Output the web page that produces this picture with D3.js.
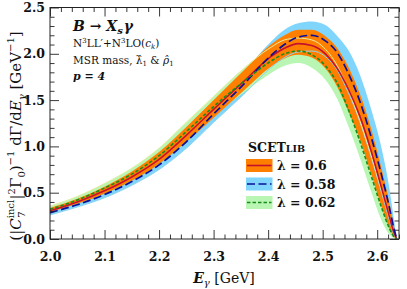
<!DOCTYPE html>
<html><head><meta charset="utf-8">
<script src="https://cdn.jsdelivr.net/npm/d3@7"></script>
<style>
html,body{margin:0;padding:0;background:#fff;}
svg{display:block;}
text{font-family:"DejaVu Serif","Liberation Serif",serif;}
</style></head>
<body>
<svg id="c" width="407" height="289"></svg>
<script>
// ---- data ----
const energy = [2.00, 2.05, 2.10, 2.15, 2.20, 2.25, 2.30, 2.355, 2.405, 2.43, 2.455, 2.48, 2.505, 2.527, 2.547, 2.568, 2.588, 2.608, 2.622, 2.63, 2.636];
// lambda = 0.6 (central, orange band)
const redMid = [0.305, 0.40, 0.52, 0.67, 0.86, 1.12, 1.40, 1.70, 1.97, 2.06, 2.11, 2.09, 2.00, 1.84, 1.62, 1.33, 0.97, 0.55, 0.25, 0.08, 0.0];
const redLo  = [0.29, 0.38, 0.49, 0.63, 0.81, 1.05, 1.31, 1.60, 1.86, 1.95, 1.99, 1.96, 1.84, 1.64, 1.38, 1.08, 0.72, 0.35, 0.12, 0.03, 0.0];
const redHi  = [0.335, 0.435, 0.565, 0.73, 0.94, 1.21, 1.50, 1.82, 2.10, 2.20, 2.26, 2.26, 2.19, 2.06, 1.86, 1.57, 1.21, 0.76, 0.40, 0.16, 0.0];
// lambda = 0.58 (blue band)
const blueMid = [0.285, 0.37, 0.48, 0.62, 0.80, 1.05, 1.35, 1.67, 1.98, 2.10, 2.18, 2.20, 2.14, 2.01, 1.79, 1.49, 1.12, 0.69, 0.35, 0.13, 0.0];
const blueLo  = [0.26, 0.345, 0.445, 0.58, 0.75, 0.98, 1.26, 1.56, 1.85, 1.96, 2.02, 2.03, 1.97, 1.82, 1.58, 1.27, 0.90, 0.50, 0.21, 0.06, 0.0];
const blueHi  = [0.305, 0.40, 0.515, 0.67, 0.87, 1.14, 1.46, 1.80, 2.13, 2.26, 2.33, 2.35, 2.31, 2.19, 2.04, 1.78, 1.42, 0.98, 0.56, 0.24, 0.0];
// lambda = 0.62 (green band)
const greenMid = [0.32, 0.42, 0.55, 0.70, 0.90, 1.16, 1.43, 1.70, 1.92, 2.00, 2.03, 1.99, 1.87, 1.68, 1.40, 1.06, 0.70, 0.34, 0.12, 0.03, 0.0];
const greenLo  = [0.30, 0.39, 0.51, 0.65, 0.83, 1.07, 1.33, 1.58, 1.79, 1.87, 1.90, 1.85, 1.72, 1.51, 1.22, 0.88, 0.53, 0.20, 0.05, 0.01, 0.0];
const greenHi  = [0.355, 0.46, 0.60, 0.765, 0.98, 1.26, 1.54, 1.84, 2.07, 2.15, 2.17, 2.15, 2.05, 1.87, 1.61, 1.28, 0.92, 0.52, 0.25, 0.09, 0.0];

const xMajor = [2.0, 2.1, 2.2, 2.3, 2.4, 2.5, 2.6];
const yMajor = [0.0, 0.5, 1.0, 1.5, 2.0, 2.5];
const legendLabels = ["λ = 0.6", "λ = 0.58", "λ = 0.62"];

// ---- layout ----
const L = 50, R = 399, T = 7.5, B = 239;
const svg = d3.select("#c");
const x = d3.scaleLinear().domain([2.0, 2.64]).range([L, R]);
const y = d3.scaleLinear().domain([0, 2.5]).range([B, T]);

const xMinor = d3.range(2.0, 2.6401, 0.02).filter(v => Math.abs(v*10 - Math.round(v*10)) > 1e-6);
const yMinor = d3.range(0, 2.5001, 0.1).filter(v => Math.abs(v*2 - Math.round(v*2)) > 1e-6);

const mk = (lo, hi) => energy.map((e, i) => ({e, lo: lo[i], hi: hi[i]}));
const area = d3.area().x(d => x(d.e)).y0(d => y(d.lo)).y1(d => y(d.hi)).curve(d3.curveMonotoneX);
const line = d3.line().x(d => x(d.e)).y(d => y(d.v)).curve(d3.curveMonotoneX);
const pts = arr => energy.map((e, i) => ({e, v: arr[i]}));

const plot = svg.append("g");
plot.append("defs").append("clipPath").attr("id", "clip").append("rect")
  .attr("x", L).attr("y", T).attr("width", R - L).attr("height", B - T);
const g = plot.append("g").attr("clip-path", "url(#clip)");

const cBlue = "#7fd5fb", cGreen = "#b9f6b4", cOrange = "#ff8000";
g.append("path").attr("d", area(mk(blueLo, blueHi))).attr("fill", cBlue);
g.append("path").attr("d", area(mk(greenLo, greenHi))).attr("fill", cGreen);
g.append("path").attr("d", area(mk(redLo, redHi))).attr("fill", cOrange);
// faint edges of the other bands seen through the orange band
g.append("path").attr("d", line(pts(blueLo))).attr("fill", "none").attr("stroke", "#8fd3ef").attr("stroke-width", 1);
g.append("path").attr("d", line(pts(greenHi))).attr("fill", "none").attr("stroke", "#e4eca0").attr("stroke-width", 1);
// central lines
g.append("path").attr("d", line(pts(redMid))).attr("fill", "none").attr("stroke", "#c4122e").attr("stroke-width", 1.6);
g.append("path").attr("d", line(pts(blueMid))).attr("fill", "none").attr("stroke", "#0c0f9a").attr("stroke-width", 1.7).attr("stroke-dasharray", "8,3.5");
g.append("path").attr("d", line(pts(greenMid))).attr("fill", "none").attr("stroke", "#1a8c1a").attr("stroke-width", 1.6).attr("stroke-dasharray", "3.5,2");

// ---- axes ----
function styleAxis(sel) {
  sel.select(".domain").remove();
  sel.selectAll("line").attr("stroke", "#222").attr("stroke-width", 0.9);
  sel.selectAll("text").attr("font-family", "DejaVu Serif").attr("font-weight", "bold").attr("font-size", 12.5).attr("fill", "#111");
}
const ax = svg.append("g");
ax.append("g").attr("transform", `translate(0,${B})`).call(d3.axisBottom(x).tickValues(xMajor).tickSize(-9).tickPadding(13).tickFormat(d3.format(".1f"))).call(styleAxis);
ax.append("g").attr("transform", `translate(0,${B})`).call(d3.axisBottom(x).tickValues(xMinor).tickSize(-4.5).tickFormat("")).call(styleAxis);
ax.append("g").attr("transform", `translate(0,${T})`).call(d3.axisTop(x).tickValues(xMajor).tickSize(-9).tickFormat("")).call(styleAxis);
ax.append("g").attr("transform", `translate(0,${T})`).call(d3.axisTop(x).tickValues(xMinor).tickSize(-4.5).tickFormat("")).call(styleAxis);
ax.append("g").attr("transform", `translate(${L},0)`).call(d3.axisLeft(y).tickValues(yMajor).tickSize(-9).tickPadding(5).tickFormat(d3.format(".1f"))).call(styleAxis);
ax.append("g").attr("transform", `translate(${L},0)`).call(d3.axisLeft(y).tickValues(yMinor).tickSize(-4.5).tickFormat("")).call(styleAxis);
ax.append("g").attr("transform", `translate(${R},0)`).call(d3.axisRight(y).tickValues(yMajor).tickSize(-9).tickFormat("")).call(styleAxis);
ax.append("g").attr("transform", `translate(${R},0)`).call(d3.axisRight(y).tickValues(yMinor).tickSize(-4.5).tickFormat("")).call(styleAxis);
svg.append("rect").attr("x", L).attr("y", T).attr("width", R - L).attr("height", B - T)
  .attr("fill", "none").attr("stroke", "#222").attr("stroke-width", 1);

// ---- x label ----
const xl = svg.append("text").attr("x", 224).attr("y", 283).attr("text-anchor", "middle")
  .attr("font-family", "DejaVu Serif").attr("font-size", 14).attr("fill", "#111");
xl.append("tspan").text("E").attr("font-style", "italic").attr("font-weight", "bold");
xl.append("tspan").text("γ").attr("font-size", 10).attr("dy", 3).attr("font-style", "italic");
xl.append("tspan").text(" [GeV]").attr("dy", -3);

// ---- y label ----
const yl = svg.append("text").attr("transform", "translate(21,136) rotate(-90)").attr("text-anchor", "middle")
  .attr("font-family", "DejaVu Serif").attr("font-size", 15).attr("fill", "#111");
yl.append("tspan").text("(|");
yl.append("tspan").text("C").attr("font-style", "italic");
yl.append("tspan").text("incl").attr("font-size", 10).attr("dy", -7);
yl.append("tspan").text("7").attr("font-size", 10).attr("dx", -18).attr("dy", 10.5);
yl.append("tspan").text("|").attr("dx", 12).attr("dy", -3.5);
yl.append("tspan").text("2").attr("font-size", 10).attr("dy", -6);
yl.append("tspan").text("Γ").attr("dy", 6);
yl.append("tspan").text("0").attr("font-size", 10).attr("dy", 3.5);
yl.append("tspan").text(")").attr("dy", -3.5);
yl.append("tspan").text("−1").attr("font-size", 10).attr("dy", -7);
yl.append("tspan").text(" dΓ/d").attr("dy", 7);
yl.append("tspan").text("E").attr("font-style", "italic");
yl.append("tspan").text("γ").attr("font-size", 10).attr("dy", 3.5).attr("font-style", "italic");
yl.append("tspan").text(" [GeV").attr("dy", -3.5);
yl.append("tspan").text("−1").attr("font-size", 10).attr("dy", -7);
yl.append("tspan").text("]").attr("dy", 7);

// ---- annotation ----
const ann = svg.append("g").attr("font-family", "DejaVu Serif").attr("fill", "#111");
const t1 = ann.append("text").attr("x", 73).attr("y", 31).attr("font-size", 14).attr("font-weight", "bold").attr("font-style", "italic");
t1.append("tspan").text("B → X");
t1.append("tspan").text("s").attr("font-size", 10).attr("dy", 3);
t1.append("tspan").text("γ").attr("dy", -3).attr("dx", 1);
const t2 = ann.append("text").attr("x", 73).attr("y", 47).attr("font-size", 10.5);
t2.append("tspan").text("N");
t2.append("tspan").text("3").attr("font-size", 7).attr("dy", -4);
t2.append("tspan").text("LL′+N").attr("dy", 4);
t2.append("tspan").text("3").attr("font-size", 7).attr("dy", -4);
t2.append("tspan").text("LO(").attr("dy", 4);
t2.append("tspan").text("c").attr("font-style", "italic");
t2.append("tspan").text("k").attr("font-size", 7).attr("dy", 2).attr("font-style", "italic");
t2.append("tspan").text(")").attr("dy", -2);
const t3 = ann.append("text").attr("x", 73).attr("y", 64).attr("font-size", 10.5);
t3.append("tspan").text("MSR mass, ");
t3.append("tspan").text("λ̂");
t3.append("tspan").text("1").attr("font-size", 7).attr("dy", 2);
t3.append("tspan").text(" & ").attr("dy", -2);
t3.append("tspan").text("ρ̂").attr("font-style", "italic");
t3.append("tspan").text("1").attr("font-size", 7).attr("dy", 2);
ann.append("text").attr("x", 73).attr("y", 80).attr("font-size", 11).attr("font-weight", "bold").attr("font-style", "italic").text("p = 4");

// ---- legend ----
const lg = svg.append("g").attr("font-family", "DejaVu Serif").attr("fill", "#111");
const lt = lg.append("text").attr("x", 248).attr("y", 152).attr("font-weight", "bold").attr("font-size", 12.5);
lt.append("tspan").text("SCET");
lt.append("tspan").text("LIB").attr("font-size", 9.5);
const rows = [
  {fill: cOrange, stroke: "#c4122e", dash: null, w: 1.6},
  {fill: cBlue, stroke: "#0c0f9a", dash: "8,3.5", w: 1.7},
  {fill: cGreen, stroke: "#1a8c1a", dash: "3.5,2", w: 1.6}
];
const rowY = [165.5, 184, 202.5];
rows.forEach((r, i) => {
  const cy = rowY[i];
  lg.append("rect").attr("x", 246).attr("y", cy - 6.5).attr("width", 26.5).attr("height", 13).attr("fill", r.fill);
  const ln = lg.append("line").attr("x1", 247).attr("x2", 271.5).attr("y1", cy).attr("y2", cy)
    .attr("stroke", r.stroke).attr("stroke-width", r.w);
  if (r.dash) ln.attr("stroke-dasharray", r.dash);
  lg.append("text").attr("x", 277).attr("y", cy + 4.5).attr("font-weight", "bold").attr("font-size", 12.5).text(legendLabels[i]);
});
</script>
</body></html>
